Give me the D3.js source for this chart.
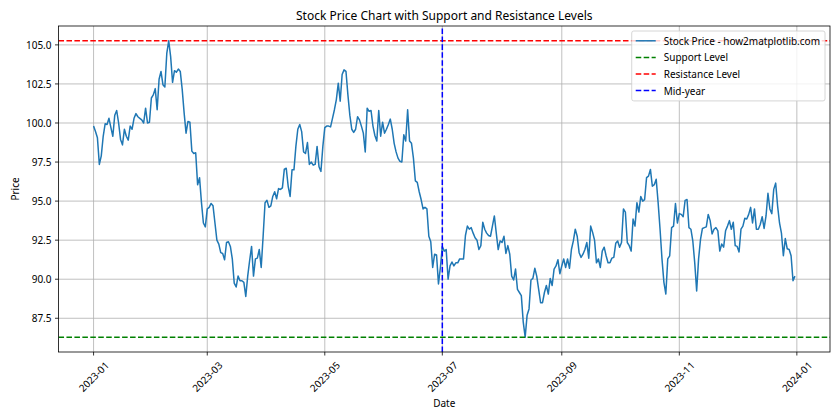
<!DOCTYPE html>
<html>
<head>
<meta charset="utf-8">
<script src="https://cdn.jsdelivr.net/npm/d3@7"></script>
<style>
  html, body { margin: 0; padding: 0; background: #fff; }
  svg { display: block; }
  text { font-family: "Noto Sans", "DejaVu Sans", sans-serif; fill: #000; }
</style>
</head>
<body>
<svg id="chart" width="840" height="420"></svg>
<script>
// ---------------- data ----------------
const startDate = "2023-01-01";
const prices = [
  99.8, 99.45, 99.05, 97.35, 97.9, 99.15, 99.95, 99.9, 100.3, 99.7,
  99.15, 100.5, 100.8, 100.0, 98.95, 98.6, 99.6, 99.15, 98.9, 99.8,
  99.6, 100.3, 100.6, 100.4, 100.3, 100.2, 100.0, 100.95, 100.0, 100.05,
  101.6, 101.8, 102.2, 100.85, 102.8, 103.3, 102.45, 102.3, 104.45, 105.26,
  104.25, 102.6, 103.35, 103.25, 103.45, 103.3, 102.15, 100.65, 99.35, 100.1,
  100.05, 98.2, 98.05, 98.1, 96.05, 96.5, 94.9, 93.6, 93.35, 94.5,
  94.6, 94.85, 94.7, 93.6, 92.5, 92.25, 91.7, 91.65, 91.25, 92.35,
  92.4, 92.1, 91.3, 89.75, 89.5, 90.2, 89.9, 89.9, 89.8, 88.9,
  90.2, 91.2, 92.1, 90.2, 91.3, 91.35, 91.9, 90.75, 92.75, 94.9,
  95.05, 94.6, 94.7, 95.3, 95.6, 95.15, 95.8, 95.75, 95.85, 97.05,
  97.1, 95.95, 95.3, 97.0, 97.0, 98.5, 99.6, 99.9, 99.45, 98.15,
  98.05, 98.75, 97.35, 97.5, 97.3, 97.35, 98.5, 97.2, 96.9, 98.5,
  99.7, 99.8, 99.8, 99.75, 100.3, 100.85, 101.5, 102.55, 101.4, 103.1,
  103.4, 103.3, 101.8, 100.5, 99.6, 99.4, 99.6, 100.4, 100.2, 99.8,
  99.35, 98.15, 100.95, 100.75, 100.8, 99.8, 99.2, 98.85, 100.8, 99.15,
  100.05, 99.35, 99.6, 99.9, 100.25, 99.6, 98.7, 98.15, 97.75, 97.55,
  97.5, 99.25, 98.85, 100.85, 98.85, 98.7, 97.75, 96.3, 96.2, 95.6,
  95.1, 94.5, 94.6, 94.5, 92.75, 92.4, 90.75, 91.6, 91.55, 89.7,
  90.75, 92.1, 91.8, 91.9, 90.0, 90.85, 91.1, 90.85, 91.05, 91.05,
  91.3, 91.3, 91.3, 92.8, 93.4, 93.2, 93.3, 92.95, 92.65, 92.5,
  91.9, 92.15, 93.65, 93.2, 92.95, 92.8, 92.75, 93.4, 94.05, 92.95,
  91.9, 92.45, 92.35, 92.75, 91.65, 92.15, 91.6, 90.2, 89.95, 90.65,
  89.35, 89.15, 88.95, 87.25, 86.29, 87.7, 88.1, 89.95, 90.05, 90.7,
  90.2, 89.35, 88.5, 88.5, 89.15, 89.6, 89.05, 90.05, 89.6, 90.65,
  90.85, 91.25, 90.35, 90.85, 91.3, 90.75, 91.3, 90.7, 91.9, 92.45,
  93.2, 92.75, 91.7, 91.4, 91.6, 91.9, 92.35, 91.35, 93.4, 93.0,
  92.5, 91.05, 91.3, 90.75, 91.8, 92.05, 91.5, 91.05, 91.05, 91.35,
  91.4, 92.3, 92.45, 92.05, 92.35, 94.5, 94.3, 92.35, 92.15, 91.8,
  93.85, 93.4, 94.9, 94.3, 95.3, 95.0, 95.1, 96.5, 96.6, 97.03,
  95.95, 96.05, 96.4, 94.9, 93.2, 91.3, 89.8, 89.05, 91.3, 91.5,
  93.3, 93.4, 94.85, 93.6, 94.2, 94.15, 94.0, 95.05, 95.1, 93.3,
  93.2, 92.45, 91.05, 89.25, 91.3, 92.55, 93.25, 93.3, 93.35, 94.15,
  93.75, 92.9, 93.2, 93.3, 93.1, 91.8, 92.25, 92.05, 93.1, 93.4,
  93.75, 93.2, 93.65, 92.15, 92.1, 91.75, 93.2, 93.4, 93.9, 93.85,
  94.15, 94.6, 93.6, 94.5, 93.2, 93.2, 93.5, 94.0, 93.25, 94.05,
  95.5, 94.5, 94.2, 95.75, 96.15, 94.7, 93.6, 92.95, 91.5, 92.6,
  91.95, 91.9, 91.5, 89.9, 90.2
];
const midYearDate = "2023-07-01";
const xTickLabels = ["2023-01", "2023-03", "2023-05", "2023-07", "2023-09", "2023-11", "2024-01"];
const yTickValues = [87.5, 90.0, 92.5, 95.0, 97.5, 100.0, 102.5, 105.0];
const legendLabels = ["Stock Price - how2matplotlib.com", "Support Level", "Resistance Level", "Mid-year"];
const titleText = "Stock Price Chart with Support and Resistance Levels";
const xLabelText = "Date";
const yLabelText = "Price";

// ---------------- setup ----------------
const parseDay = d3.utcParse("%Y-%m-%d");
const parseMonth = d3.utcParse("%Y-%m");
const start = parseDay(startDate);
const series = prices.map((v, i) => ({ date: d3.utcDay.offset(start, i), value: v }));
const support = d3.min(prices);
const resistance = d3.max(prices);
const midYear = parseDay(midYearDate);

const W = 840, H = 420;
const m = { left: 58.5, right: 830, top: 26, bottom: 352 };

const t0 = series[0].date, t1 = series[series.length - 1].date;
const tPad = (t1 - t0) * 0.05;
const x = d3.scaleUtc()
  .domain([new Date(+t0 - tPad), new Date(+t1 + tPad)])
  .range([m.left, m.right]);
const yRange = resistance - support;
const y = d3.scaleLinear()
  .domain([support - 0.05 * yRange, resistance + 0.05 * yRange])
  .range([m.bottom, m.top]);

const svg = d3.select("#chart");
const colors = { line: "#1f77b4", support: "#008000", resistance: "#ff0000", mid: "#0000ff" };
const dash = "5.55,2.4";

// clip
svg.append("defs").append("clipPath").attr("id", "clip")
  .append("rect").attr("x", m.left).attr("y", m.top)
  .attr("width", m.right - m.left).attr("height", m.bottom - m.top);

// ---------------- grid ----------------
const xTickDates = xTickLabels.map(parseMonth);
const grid = svg.append("g");
grid.selectAll(".gx").data(xTickDates).join("line")
  .attr("x1", d => x(d)).attr("x2", d => x(d))
  .attr("y1", m.top).attr("y2", m.bottom)
  .attr("stroke", "#b0b0b0").attr("stroke-width", 0.8);
grid.selectAll(".gy").data(yTickValues).join("line")
  .attr("x1", m.left).attr("x2", m.right)
  .attr("y1", d => y(d)).attr("y2", d => y(d))
  .attr("stroke", "#b0b0b0").attr("stroke-width", 0.8);

// ---------------- data line ----------------
const plot = svg.append("g").attr("clip-path", "url(#clip)");
plot.append("path").datum(series)
  .attr("fill", "none").attr("stroke", colors.line).attr("stroke-width", 1.5)
  .attr("stroke-linejoin", "round").attr("stroke-linecap", "butt")
  .attr("d", d3.line().x(d => x(d.date)).y(d => y(d.value)));

// reference lines
plot.append("line").attr("x1", m.left).attr("x2", m.right)
  .attr("y1", y(support)).attr("y2", y(support))
  .attr("stroke", colors.support).attr("stroke-width", 1.5).attr("stroke-dasharray", dash);
plot.append("line").attr("x1", m.left).attr("x2", m.right)
  .attr("y1", y(resistance)).attr("y2", y(resistance))
  .attr("stroke", colors.resistance).attr("stroke-width", 1.5).attr("stroke-dasharray", dash);
plot.append("line").attr("x1", x(midYear)).attr("x2", x(midYear))
  .attr("y1", m.bottom).attr("y2", m.top)
  .attr("stroke", colors.mid).attr("stroke-width", 1.5).attr("stroke-dasharray", dash);

// ---------------- axes ----------------
const fmtX = d3.utcFormat("%Y-%m");
const xAxis = svg.append("g").attr("transform", `translate(0,${m.bottom})`);
xAxis.selectAll(".tk").data(xTickDates).join("line")
  .attr("x1", d => x(d)).attr("x2", d => x(d)).attr("y1", 0).attr("y2", 3.5)
  .attr("stroke", "#000").attr("stroke-width", 0.8);
xAxis.selectAll(".tl").data(xTickDates).join("text")
  .attr("font-size", 10)
  .attr("text-anchor", "middle")
  .attr("dominant-baseline", "central")
  .attr("transform", d => `translate(${x(d)},${24.5}) rotate(-45)`)
  .text(d => fmtX(d));

const yAxis = svg.append("g");
yAxis.selectAll(".tk").data(yTickValues).join("line")
  .attr("x1", m.left - 3.5).attr("x2", m.left).attr("y1", d => y(d)).attr("y2", d => y(d))
  .attr("stroke", "#000").attr("stroke-width", 0.8);
yAxis.selectAll(".tl").data(yTickValues).join("text")
  .attr("font-size", 10)
  .attr("text-anchor", "end")
  .attr("dominant-baseline", "central")
  .attr("x", m.left - 7).attr("y", d => y(d))
  .text(d => d3.format(".1f")(d));

// spines
svg.append("rect").attr("x", m.left).attr("y", m.top)
  .attr("width", m.right - m.left).attr("height", m.bottom - m.top)
  .attr("fill", "none").attr("stroke", "#000").attr("stroke-width", 0.8);

// labels
svg.append("text").attr("x", (m.left + m.right) / 2).attr("y", 20)
  .attr("text-anchor", "middle").attr("font-size", 12).text(titleText);
svg.append("text").attr("x", (m.left + m.right) / 2).attr("y", 407)
  .attr("text-anchor", "middle").attr("font-size", 10).text(xLabelText);
svg.append("text").attr("transform", `translate(19,${(m.top + m.bottom) / 2}) rotate(-90)`)
  .attr("text-anchor", "middle").attr("font-size", 10).text(yLabelText);

// ---------------- legend ----------------
const legendStyles = [
  { color: colors.line, dash: null },
  { color: colors.support, dash: dash },
  { color: colors.resistance, dash: dash },
  { color: colors.mid, dash: dash }
];
const leg = svg.append("g");
const legBox = leg.append("rect");
const rowH = 16.6;
const texts = leg.selectAll(".lt").data(legendLabels).join("text")
  .attr("font-size", 10).attr("dominant-baseline", "central")
  .text(d => d);
let maxW = 0;
texts.each(function () { maxW = Math.max(maxW, this.getComputedTextLength()); });
const boxW = 4 + 20 + 8 + maxW + 5;
const boxH = 8 + rowH * legendLabels.length - 4.5;
const bx = m.right - 5 - boxW, by = m.top + 5;
legBox.attr("x", bx).attr("y", by).attr("width", boxW).attr("height", boxH)
  .attr("rx", 2).attr("fill", "#fff").attr("fill-opacity", 0.8)
  .attr("stroke", "#cccccc").attr("stroke-width", 0.8);
texts.attr("x", bx + 32).attr("y", (d, i) => by + 9.8 + i * rowH);
leg.selectAll(".lh").data(legendLabels).join("line")
  .attr("x1", bx + 4).attr("x2", bx + 24)
  .attr("y1", (d, i) => by + 9.8 + i * rowH).attr("y2", (d, i) => by + 9.8 + i * rowH)
  .attr("stroke", (d, i) => legendStyles[i].color).attr("stroke-width", 1.5)
  .attr("stroke-dasharray", (d, i) => legendStyles[i].dash);
</script>
</body>
</html>
